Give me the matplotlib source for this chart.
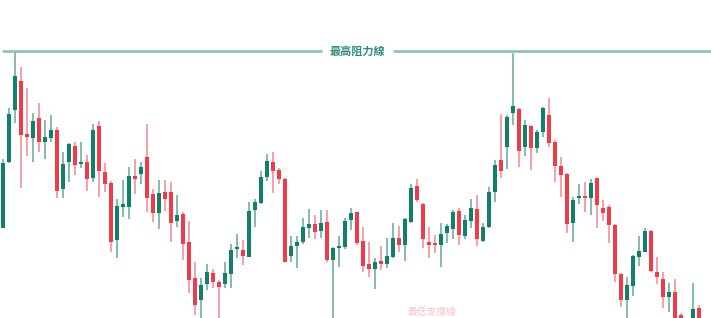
import matplotlib.pyplot as plt
import numpy as np

# OHLC prices (117 daily candles)
opens = [90, 156, 208, 237, 184, 180, 200, 176, 180, 188, 129, 156, 172, 154, 156, 140, 192, 146, 135, 78,
         111, 111, 142, 144, 161, 124, 105, 126, 126, 97, 104, 76, 40, 18, 34, 45, 36, 34, 44, 69,
         68, 61, 108, 115, 141, 156, 148, 139, 62, 72, 76, 90, 94, 87, 96, 58, 70, 71, 98, 106,
         77, 54, 49, 57, 54, 61, 80, 73, 96, 132, 114, 76, 74, 73, 85, 89, 107, 82, 97, 109,
         77, 91, 126, 158, 171, 205, 209, 171, 192, 170, 186, 203, 176, 152, 144, 95, 120, 122, 120, 140,
         110, 111, 93, 44, 18, 32, 61, 66, 87, 46, 39, 21, 26, 3, -5, -5, 10]
highs = [159, 210, 267, 251, 230, 205, 215, 198, 203, 191, 166, 175, 176, 176, 163, 194, 197, 155, 137, 119,
         138, 151, 159, 156, 194, 129, 138, 138, 136, 123, 106, 97, 56, 40, 54, 49, 38, 56, 74, 84,
         78, 116, 119, 147, 164, 166, 150, 140, 82, 82, 100, 109, 103, 108, 108, 71, 82, 100, 110, 106,
         91, 76, 60, 72, 80, 95, 92, 100, 134, 139, 115, 91, 83, 95, 94, 108, 110, 103, 119, 123,
         95, 131, 158, 204, 203, 265, 210, 198, 193, 188, 211, 220, 178, 161, 145, 121, 134, 136, 139, 140,
         118, 113, 94, 45, 41, 63, 82, 90, 88, 61, 46, 35, 39, 5, -3, 35, 13]
lows = [90, 155, 195, 130, 162, 156, 166, 159, 176, 120, 120, 136, 143, 150, 127, 136, 121, 126, 66, 60,
        101, 99, 124, 134, 106, 96, 89, 107, 76, 91, 58, 25, 3, -5, 28, 30, -5, 30, 30, 60,
        53, 61, 91, 114, 137, 125, 134, 56, 56, 50, 74, 80, 79, 80, 56, -5, 51, 69, 88, 73,
        46, 41, 29, 48, 50, 60, 66, 57, 95, 116, 70, 60, 65, 51, 75, 79, 73, 79, 90, 72,
        76, 90, 116, 140, 149, 193, 151, 162, 148, 165, 181, 171, 136, 121, 85, 76, 114, 106, 103, 90,
        97, 75, 36, 11, -5, 22, 52, 66, 46, 34, 10, 6, -8, -8, -12, -8, -8]
closes = [155, 204, 242, 183, 181, 197, 176, 181, 188, 127, 154, 174, 153, 156, 139, 188, 147, 134, 76, 112,
          114, 142, 139, 151, 120, 105, 125, 119, 95, 103, 74, 38, 13, 33, 46, 36, 31, 45, 68, 70,
          62, 107, 116, 141, 157, 147, 139, 56, 72, 76, 91, 94, 86, 95, 58, 70, 72, 97, 105, 75,
          52, 49, 56, 54, 62, 80, 73, 99, 130, 118, 79, 73, 73, 84, 92, 106, 83, 98, 110, 79,
          91, 126, 153, 147, 201, 212, 167, 193, 170, 186, 210, 175, 152, 143, 94, 118, 122, 120, 135, 113,
          105, 93, 44, 18, 33, 62, 67, 87, 47, 41, 21, 26, -5, -5, -10, 9, -5]

resistance = 267
resistance_label = '最高阻力線'
support_label = '最低支撐線'

green, red = '#11806a', '#ef3b4a'
green_wick, red_wick = '#62aa9b', '#f3878f'

o = np.array(opens)
h = np.array(highs)
l = np.array(lows)
c = np.array(closes)
x = np.arange(len(o))
up = c >= o

fig = plt.figure(figsize=(7.11, 3.18), dpi=100)
ax = fig.add_axes([0, 0, 1, 1])
ax.set_xlim(-0.45, 118.05)
ax.set_ylim(0, 318)
ax.axis('off')

# wicks
ax.vlines(x[up], l[up], h[up], color=green_wick, linewidth=1.1, zorder=2)
ax.vlines(x[~up], l[~up], h[~up], color=red_wick, linewidth=1.1, zorder=2)

# bodies
body_lo = np.minimum(o, c)
body_h = np.maximum(np.abs(c - o), 2)
ax.bar(x[up], body_h[up], bottom=body_lo[up], width=0.68, color=green, zorder=3)
ax.bar(x[~up], body_h[~up], bottom=body_lo[~up], width=0.68, color=red, zorder=3)

# resistance line with label gap
ax.hlines(resistance, -0.12, 53.2, color='#86bdb1', linewidth=1.8, zorder=4)
ax.hlines(resistance, 65.05, 118.05, color='#86bdb1', linewidth=1.8, zorder=4)
ax.text(59.2, resistance, resistance_label, ha='center', va='center', fontsize=8,
        fontweight='bold', color='#2e8f7a', family=['Noto Sans CJK TC', 'DejaVu Sans'], zorder=5)

# faint support label near the bottom edge
ax.text(71.5, 1, support_label, ha='center', va='bottom', fontsize=7, color='#f6c2c6',
        family=['Noto Sans CJK TC', 'DejaVu Sans'])

fig.savefig('out.png', dpi=100)
